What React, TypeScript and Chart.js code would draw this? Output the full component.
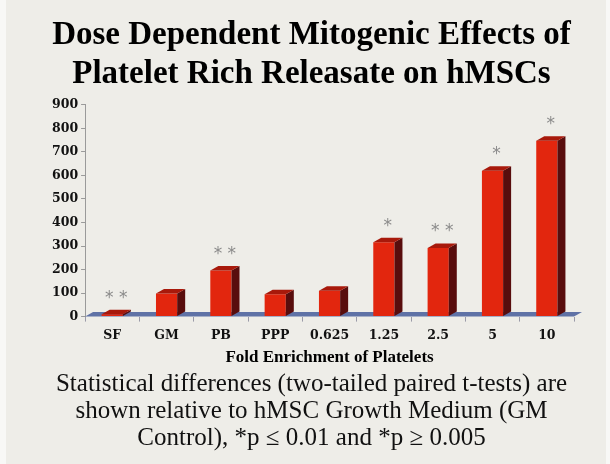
import React, { useEffect, useRef } from "react";
import { Chart, registerables } from "chart.js";

Chart.register(...registerables);

const categories = ["SF", "GM", "PB", "PPP", "0.625", "1.25", "2.5", "5", "10"];
const proliferation = [10, 98, 196, 95, 110, 316, 292, 620, 748];
const significance = ["**", "", "**", "", "", "*", "**", "*", "*"];
const yMin = 0;
const yMax = 900;
const yStep = 100;
const titleLines = ["Dose Dependent Mitogenic Effects of", "Platelet Rich Releasate on hMSCs"];
const xAxisTitle = "Fold Enrichment of Platelets";
const noteLines = [
  "Statistical differences (two-tailed paired t-tests) are",
  "shown relative to hMSC Growth Medium (GM",
  "Control), *p \u2264 0.01 and *p \u2265 0.005",
];

const BG = "#eeede8";
const EDGE = "#f8f8f6";
const FRONT = "#e2260e";
const TOP = "#a8190b";
const SIDE = "#580d0d";
const FLOOR = "#5f72a6";
const DX = 8;
const DY = 4.5;
const SERIF = "'Liberation Serif', 'DejaVu Serif', serif";
const TICKFONT = "'DejaVu Serif', serif";

Chart.defaults.font.family = SERIF;

const threeD = {
  id: "threeD",
  beforeDatasetsDraw(chart: any) {
    const { ctx, chartArea } = chart;
    const yb = chart.scales.y.getPixelForValue(0);
    ctx.save();
    ctx.fillStyle = FLOOR;
    ctx.beginPath();
    ctx.moveTo(chartArea.left, yb);
    ctx.lineTo(chartArea.right, yb);
    ctx.lineTo(chartArea.right + DX, yb - DY);
    ctx.lineTo(chartArea.left + DX, yb - DY);
    ctx.closePath();
    ctx.fill();
    ctx.restore();
  },
  afterDatasetsDraw(chart: any) {
    const { ctx } = chart;
    const meta = chart.getDatasetMeta(0);
    ctx.save();
    meta.data.forEach((el: any, i: number) => {
      const { x, y, base, width } = el.getProps(["x", "y", "base", "width"], true);
      const l = x - width / 2;
      const r = x + width / 2;
      ctx.fillStyle = SIDE;
      ctx.beginPath();
      ctx.moveTo(r, y);
      ctx.lineTo(r + DX, y - DY);
      ctx.lineTo(r + DX, base - DY);
      ctx.lineTo(r, base);
      ctx.closePath();
      ctx.fill();
      ctx.fillStyle = TOP;
      ctx.beginPath();
      ctx.moveTo(l, y);
      ctx.lineTo(l + DX, y - DY);
      ctx.lineTo(r + DX, y - DY);
      ctx.lineTo(r, y);
      ctx.closePath();
      ctx.fill();
      const s = significance[i];
      if (s) {
        ctx.fillStyle = "#8a8a8a";
        ctx.font = "17px 'DejaVu Sans', sans-serif";
        ctx.textAlign = "center";
        ctx.textBaseline = "middle";
        ctx.fillText(s.split("").join(" "), x + DX / 2, y - 16);
      }
    });
    ctx.restore();
  },
};

export default function App() {
  const ref = useRef<HTMLCanvasElement>(null);
  useEffect(() => {
    document.body.style.margin = "0";
    document.body.style.background = BG;
    const chart = new Chart(ref.current!, {
      type: "bar",
      data: {
        labels: categories,
        datasets: [
          {
            data: proliferation,
            backgroundColor: FRONT,
            borderWidth: 0,
            barPercentage: 0.39,
            categoryPercentage: 1,
          },
        ],
      },
      options: {
        responsive: false,
        animation: false,
        devicePixelRatio: 1,
        layout: { padding: { left: 49, right: 36, top: 0, bottom: 9 } },
        plugins: {
          legend: { display: false },
          tooltip: { enabled: false },
          title: {
            display: true,
            text: titleLines,
            color: "#000",
            font: { family: SERIF, size: 33, weight: "bold", lineHeight: 1.18 },
            padding: { top: 16, bottom: 11 },
          },
          subtitle: {
            display: true,
            position: "bottom",
            text: noteLines,
            color: "#111",
            font: { family: SERIF, size: 25, weight: 400, lineHeight: 1.08 },
            padding: { top: 0, bottom: 3 },
          },
        },
        scales: {
          x: {
            offset: true,
            grid: { display: true, drawOnChartArea: false, drawTicks: true, tickLength: 5, color: "#9a9aa8" },
            border: { display: false },
            ticks: {
              color: "#111",
              padding: 7,
              font: { family: TICKFONT, size: 12.5, weight: "bold" },
            },
            title: {
              display: true,
              text: xAxisTitle,
              color: "#000",
              font: { family: SERIF, size: 17, weight: "bold" },
              padding: { top: -3, bottom: 3 },
            },
          },
          y: {
            min: yMin,
            max: yMax,
            grid: { display: true, drawOnChartArea: false, drawTicks: true, tickLength: 4, color: "#9a9a9a" },
            border: { display: true, color: "#9a9a9a", width: 1 },
            ticks: {
              stepSize: yStep,
              color: "#111",
              padding: 3,
              font: { family: TICKFONT, size: 12.5, weight: "bold" },
            },
          },
        },
      },
      plugins: [threeD],
    });
    return () => chart.destroy();
  }, []);
  return (
    <div style={{ position: "fixed", left: 0, top: 0, width: 610, height: 464, background: BG, overflow: "hidden" }}>
      <div style={{ position: "absolute", left: 0, top: 0, width: 6, height: 464, background: EDGE }} />
      <div style={{ position: "absolute", right: 0, top: 0, width: 4, height: 464, background: EDGE }} />
      <canvas ref={ref} width={610} height={464} style={{ position: "absolute", left: 0, top: 0 }} />
    </div>
  );
}
